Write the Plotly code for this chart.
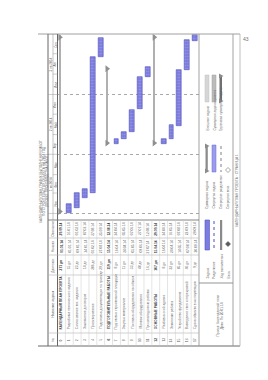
import plotly.graph_objects as go
import pandas as pd

W, H = 268, 380

# ---------------- data ----------------
task_ids = list(range(18))
task_names = [
    "КАЛЕНДАРНЫЙ ПЛАН ПРОЕКТА",
    "Разработка технического задания",
    "Согласование тех. задания",
    "Заключение договоров",
    "Проектирование",
    "Подготовка документации по проекту",
    "ПОДГОТОВИТЕЛЬНЫЕ РАБОТЫ",
    "Подготовка строительной площадки",
    "Закупка материалов",
    "Поставка оборудования на объект",
    "Монтаж оборудования",
    "Пусконаладочные работы",
    "ОСНОВНЫЕ РАБОТЫ",
    "Разбивка осей здания",
    "Земляные работы",
    "Устройство фундамента",
    "Возведение стен и перекрытий",
    "Сдача объекта в эксплуатацию",
]
is_summary = [True, False, False, False, False, False, True, False, False, False, False, False,
              True, False, False, False, False, False]
starts = ["2014-01-01", "2014-01-01", "2014-01-09", "2014-01-24", "2014-02-01", "2014-08-27",
          "2014-04-15", "2014-04-16", "2014-04-24", "2014-05-05", "2014-06-09", "2014-07-27",
          "2014-04-15", "2014-04-16", "2014-04-24", "2014-05-14", "2014-08-07", "2014-09-20"]
finishes = ["2014-09-29", "2014-01-16", "2014-02-01", "2014-02-07", "2014-08-27", "2014-09-25",
            "2014-08-12", "2014-04-24", "2014-05-05", "2014-06-07", "2014-07-27", "2014-08-12",
            "2014-09-29", "2014-04-24", "2014-05-16", "2014-08-07", "2014-09-22", "2014-09-29"]
durations = ["271 дн", "15 дн", "23 дн", "14 дн", "206 дн", "29 дн", "119 дн", "8 дн", "11 дн",
             "33 дн", "48 дн", "16 дн", "167 дн", "8 дн", "22 дн", "85 дн", "46 дн", "9 дн"]
quarters = ["1 кв 2014", "2 кв 2014", "3 кв 2014"]
quarter_mid = ["2014-02-14", "2014-05-16", "2014-08-15"]
months = ["Янв", "Фев", "Мар", "Апр", "Май", "Июн", "Июл", "Авг", "Сен"]
month_mid = ["2014-01-16", "2014-02-14", "2014-03-16", "2014-04-15", "2014-05-16",
             "2014-06-15", "2014-07-16", "2014-08-16", "2014-09-15"]
month_starts = ["2014-01-01", "2014-02-01", "2014-03-01", "2014-04-01", "2014-05-01",
                "2014-06-01", "2014-07-01", "2014-08-01", "2014-09-01", "2014-10-01"]
legend_col1 = ["Задача", "Разделение", "Ход выполнения", "Веха"]
legend_col2 = ["Суммарная задача", "Свернутая задача", "Свернутое разделение", "Свернутая веха"]
legend_col3 = ["Внешние задачи", "Суммарная задача проекта", "Групповая суммарная задача"]
title_lines = ["КАЛЕНДАРНЫЙ ПЛАН-ГРАФИК ВЫПОЛНЕНИЯ РАБОТ",
               "ПО СТРОИТЕЛЬСТВУ ОБЪЕКТА НА 2014 ГОД",
               "(ПРОЕКТ ПРОИЗВОДСТВА РАБОТ)"]

# ---------------- helpers ----------------
def px(x):
    return x / W

def py(y):
    return 1 - y / H

FONT = "Liberation Sans"
TXT = "#666666"
LINE = "#8a8a8a"

df = pd.DataFrame({"row": [i + 1 for i in task_ids], "start": pd.to_datetime(starts),
                   "finish": pd.to_datetime(finishes), "summary": is_summary})
df["ms"] = (df["finish"] - df["start"]).dt.total_seconds() * 1000
tasks = df[~df["summary"]]
summ = df[df["summary"]]

fig = go.Figure()

fig.add_trace(go.Bar(
    x=tasks["row"], y=tasks["ms"], base=tasks["start"].dt.strftime("%Y-%m-%d"),
    width=0.62, xaxis="x2", yaxis="y2",
    marker=dict(color="#7c7ce4", line=dict(color="#5252bc", width=0.6),
                pattern=dict(shape=".", fgcolor="#b4b4f2", bgcolor="#7878dc", size=3, solidity=0.35)),
    hoverinfo="skip", showlegend=False))

fig.add_trace(go.Bar(
    x=summ["row"], y=summ["ms"], base=summ["start"].dt.strftime("%Y-%m-%d"),
    width=0.3, offset=-0.42, xaxis="x2", yaxis="y2",
    marker=dict(color="#b0b0b0", line=dict(width=0)), hoverinfo="skip", showlegend=False))

tri_x = list(summ["row"] - 0.2) * 2
tri_y = list((summ["start"] + pd.Timedelta(days=3)).dt.strftime("%Y-%m-%d")) + \
        list((summ["finish"] - pd.Timedelta(days=3)).dt.strftime("%Y-%m-%d"))
fig.add_trace(go.Scatter(x=tri_x, y=tri_y, mode="markers", xaxis="x2", yaxis="y2",
                         marker=dict(symbol="triangle-right", size=6, color="#909090"),
                         hoverinfo="skip", showlegend=False))

shapes = []

def pline(x0, y0, x1, y1, color=LINE, width=0.8, dash=None):
    d = dict(type="line", xref="paper", yref="paper", x0=px(x0), y0=py(y0), x1=px(x1), y1=py(y1),
             line=dict(color=color, width=width))
    if dash:
        d["line"]["dash"] = dash
    shapes.append(d)

# frame
pline(38, 34, 240, 34, "#a0a0a0", 1)
pline(38, 346, 240, 346, "#b4b4b4", 2.2)
pline(48, 34, 48, 346, "#666666", 1)
pline(53, 34, 53, 220, "#9a9a9a", 0.6)
pline(57.5, 34, 57.5, 346, "#666666", 1)
pline(199, 34, 199, 346, "#999999", 0.9)
pline(233, 34, 233, 346, "#999999", 0.9)
pline(240, 34, 240, 346, "#b8b8b8", 0.9)
pline(48, 220, 199, 220, "#777777", 0.9)
pline(199, 283, 233, 283, "#888888", 0.9)
for yy in [238, 255, 275, 333]:
    pline(48, yy, 199, yy, "#b4b4b4", 0.6)

# table row separators (through row axis)
for k in range(1, 18):
    shapes.append(dict(type="line", xref="x2", yref="paper", x0=k + 0.5, x1=k + 0.5,
                       y0=py(220), y1=py(346), line=dict(color="#c8c8c8", width=0.5)))

# timescale ticks
for i, ms in enumerate(month_starts):
    shapes.append(dict(type="line", xref="paper", yref="y2", x0=px(53), x1=px(57.5),
                       y0=ms, y1=ms, line=dict(color="#9a9a9a", width=0.5)))
    if i % 3 == 0:
        shapes.append(dict(type="line", xref="paper", yref="y2", x0=px(48), x1=px(53),
                           y0=ms, y1=ms, line=dict(color="#9a9a9a", width=0.5)))

annotations = []

def rtext(x, y, text, size=3.6, xref="paper", yref="paper", yanchor="middle", bold=False, color=TXT):
    if bold:
        text = "<b>" + text + "</b>"
    annotations.append(dict(x=x, y=y, xref=xref, yref=yref, text=text, showarrow=False,
                            textangle=-90, xanchor="center", yanchor=yanchor,
                            font=dict(family=FONT, size=size, color=color)))

# title
for i, t in enumerate(title_lines):
    rtext(px(40.8 + i * 3.1), py(181), t, size=3.2)

# timescale labels
for q, d in zip(quarters, quarter_mid):
    rtext(px(50.5), d, q, size=3.2, yref="y2")
for m, d in zip(months, month_mid):
    rtext(px(55.3), d, m, size=3.0, yref="y2")

# table header
rtext(px(52.8), py(340), "№", size=3.4)
rtext(px(52.8), py(304), "Название задачи", size=3.4)
rtext(px(52.8), py(265), "Длительн.", size=3.2)
rtext(px(52.8), py(246.5), "Начало", size=3.2)
rtext(px(52.8), py(229), "Окончание", size=3.2)

# table rows
for i in task_ids:
    r = i + 1
    b = is_summary[i]
    c = "#3c3c3c" if b else TXT
    rtext(r, py(340), str(task_ids[i]), size=3.4, xref="x2", bold=b, color=c)
    rtext(r, py(331), task_names[i], size=3.3, xref="x2", yanchor="bottom", bold=b, color=c)
    rtext(r, py(265), durations[i], size=3.3, xref="x2", bold=b, color=c)
    rtext(r, py(246.5), pd.Timestamp(starts[i]).strftime("%d.%m.%y"), size=3.3, xref="x2", bold=b, color=c)
    rtext(r, py(229), pd.Timestamp(finishes[i]).strftime("%d.%m.%y"), size=3.3, xref="x2", bold=b, color=c)

# legend
lx = [207, 214, 221, 228]
for i, t in enumerate(legend_col1):
    rtext(px(lx[i]), py(281), t, size=3.2, yanchor="bottom")
for i, t in enumerate(legend_col2):
    rtext(px(lx[i]), py(211), t, size=3.2, yanchor="bottom")
for i, t in enumerate(legend_col3):
    rtext(px(lx[i]), py(133), t, size=3.2, yanchor="bottom")

def prect(x0, y0, x1, y1, fill, line="rgba(0,0,0,0)", lw=0):
    shapes.append(dict(type="rect", xref="paper", yref="paper", x0=px(x0), x1=px(x1),
                       y0=py(y0), y1=py(y1), fillcolor=fill, line=dict(color=line, width=lw)))

def ptri(x, y):
    shapes.append(dict(type="path", xref="paper", yref="paper",
                       path=f"M {px(x-2)} {py(y-2.5)} L {px(x+2.5)} {py(y)} L {px(x-2)} {py(y+2.5)} Z",
                       fillcolor="#8c8c8c", line=dict(width=0)))

def pdiam(x, y, fill, line):
    shapes.append(dict(type="path", xref="paper", yref="paper",
                       path=f"M {px(x)} {py(y-2.5)} L {px(x+2.5)} {py(y)} L {px(x)} {py(y+2.5)} L {px(x-2.5)} {py(y)} Z",
                       fillcolor=fill, line=dict(color=line, width=0.6)))

# col 1 symbols
prect(205, 220, 209.5, 250, "#7c7ce4", "#5252bc", 0.6)
pline(214, 221, 214, 250, "#5050c0", 1, "dot")
prect(220, 220, 222.2, 250, "#8a8a8a")
pdiam(228, 244, "#5a5a5a", "#5a5a5a")
# col 2 symbols
prect(205.5, 145, 207.8, 172, "#8c8c8c")
ptri(207, 146); ptri(207, 171)
prect(212, 145, 216, 172, "#9c9cee", "#6a6acc", 0.5)
pline(221, 146, 221, 172, "#808080", 1, "dot")
pdiam(228, 170, "white", "#6a6a6a")
# col 3 symbols
prect(205, 75, 209, 102, "#d6d6d6", "#c0c0c0", 0.5)
prect(212, 75, 216, 102, "#bcbcbc", "#a0a0a0", 0.5)
prect(219.5, 75, 222, 102, "#707070")
ptri(221, 76); ptri(221, 101)

# project info
rtext(px(217.5), py(316), "Проект: Календарный план", size=3.3)
rtext(px(221.5), py(316), "Дата: Пн 20.01.14", size=3.3)

# footer
rtext(px(236.8), py(190), "КАЛЕНДАРНЫЙ ПЛАН ПРОЕКТА · СТРАНИЦА 1", size=3.2)

# page number
annotations.append(dict(x=px(251), y=py(34), xref="paper", yref="paper", text="43", showarrow=False,
                        font=dict(family=FONT, size=5, color="#707070")))

fig.update_layout(
    width=W, height=H, margin=dict(l=0, r=0, t=0, b=0),
    paper_bgcolor="white", plot_bgcolor="rgba(0,0,0,0)",
    xaxis=dict(visible=False, range=[0, 1], fixedrange=True),
    yaxis=dict(visible=False, range=[0, 1], fixedrange=True),
    xaxis2=dict(domain=[px(57.5), px(199)], range=[0.5, 18.5], showgrid=False, zeroline=False,
                showticklabels=False, anchor="y2"),
    yaxis2=dict(domain=[py(220), py(34)], type="date", range=["2013-12-22", "2014-10-01"],
                showgrid=True, gridcolor="#a8a8a8", griddash="dot", gridwidth=0.6,
                dtick="M3", tick0="2014-01-01", showticklabels=False, zeroline=False,
                anchor="x2"),
    barmode="overlay", bargap=0,
    shapes=shapes, annotations=annotations, showlegend=False,
)

fig.write_html("out.html")
